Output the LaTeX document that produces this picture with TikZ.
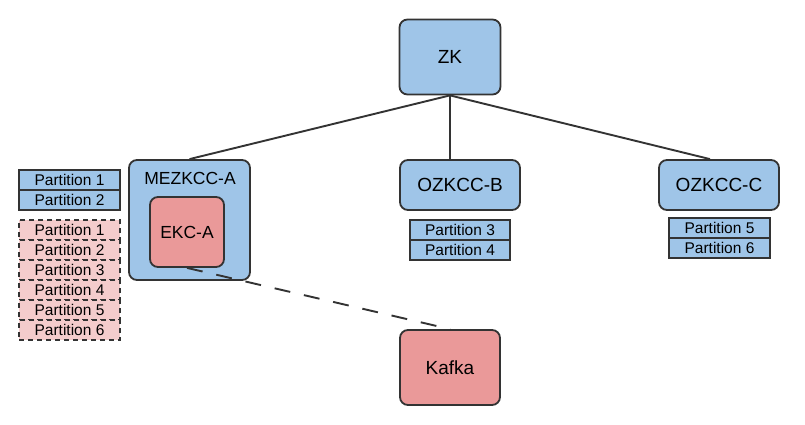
\documentclass[tikz,border=0pt]{standalone}
\usepackage{fontspec}
\setmainfont{Liberation Sans}
\usetikzlibrary{calc}
\definecolor{bluefill}{HTML}{9FC5E8}
\definecolor{redfill}{HTML}{EA9999}
\definecolor{pinkfill}{HTML}{F4CCCC}
\definecolor{edge}{HTML}{333333}
\tikzset{
  bigbox/.style={draw=edge, line width=1.8pt, rounded corners=8pt, inner sep=0pt, font=\fontsize{19}{22}\selectfont},
  bluebox/.style={bigbox, fill=bluefill},
  redbox/.style={bigbox, fill=redfill},
  partrow/.style={draw=edge, line width=1.8pt, fill=bluefill, minimum width=101pt, minimum height=20pt, inner sep=0pt, font=\fontsize{15.5}{18}\selectfont},
  pinkrow/.style={partrow, fill=pinkfill, dashed, dash pattern=on 5pt off 4pt},
  conn/.style={draw=edge, line width=1.9pt},
}
\begin{document}
\begin{tikzpicture}[x=1pt,y=-1pt]
\useasboundingbox (0,0) rectangle (805,425);
\node[bluebox, minimum width=101pt, minimum height=75pt] (zk) at (450,57) {ZK};
\node[bluebox, minimum width=121pt, minimum height=120pt] (mez) at (189.5,220) {};
\node[font=\fontsize{17.5}{20}\selectfont, inner sep=0pt] (mezlabel) at (190,178) {MEZKCC-A};
\node[redbox, minimum width=74pt, minimum height=70pt, font=\fontsize{17.5}{20}\selectfont] (ekc) at (187,232) {EKC-A};
\node[bluebox, minimum width=120pt, minimum height=50pt] (ozb) at (460,185) {OZKCC-B};
\node[bluebox, minimum width=120pt, minimum height=50pt] (ozc) at (719,185) {OZKCC-C};
\node[redbox, minimum width=100pt, minimum height=75pt] (kafka) at (450,367.5) {Kafka};
% partitions left
\node[partrow] (pa1) at (69.5,180) {Partition 1};
\node[partrow] (pa2) at (69.5,200) {Partition 2};
\node[pinkrow] (pp1) at (69.5,230) {Partition 1};
\node[pinkrow] (pp2) at (69.5,250) {Partition 2};
\node[pinkrow] (pp3) at (69.5,270) {Partition 3};
\node[pinkrow] (pp4) at (69.5,290) {Partition 4};
\node[pinkrow] (pp5) at (69.5,310) {Partition 5};
\node[pinkrow] (pp6) at (69.5,330) {Partition 6};
% partitions B
\node[partrow, minimum width=100pt] (pb3) at (460,230) {Partition 3};
\node[partrow, minimum width=100pt] (pb4) at (460,250) {Partition 4};
% partitions C
\node[partrow] (pc5) at (719.5,228) {Partition 5};
\node[partrow] (pc6) at (719.5,248) {Partition 6};
% connectors
\draw[conn] (zk.south) -- (mez.north);
\draw[conn] (zk.south) -- (zk.south |- ozb.north);
\draw[conn] (zk.south) -- ($(ozc.north)+(-9,0)$);
\draw[conn, dash pattern=on 16pt off 14pt] (ekc.south) -- (kafka.north);
\end{tikzpicture}
\end{document}
